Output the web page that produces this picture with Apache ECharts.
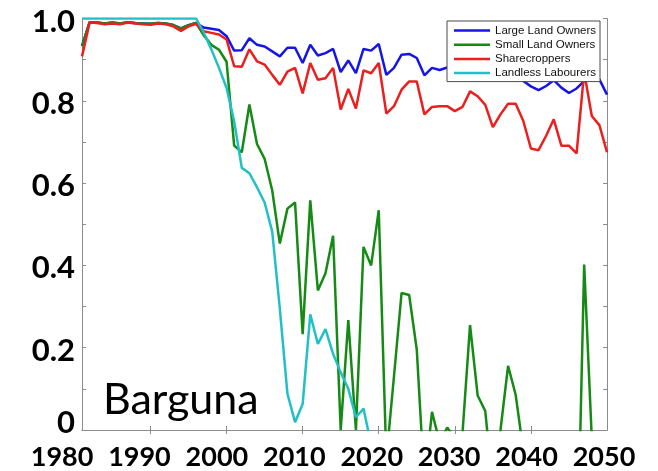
<!DOCTYPE html>
<html>
<head>
<meta charset="utf-8">
<script src="https://cdn.jsdelivr.net/npm/echarts@6/dist/echarts.min.js"></script>
<style>
  html, body { margin: 0; padding: 0; background: #fff; }
  #chart { width: 658px; height: 471px; }
</style>
</head>
<body>
<div id="chart"></div>
<script>
// Yearly shares for the four household groups, 1981-2050.
// Values below zero fall under the axis floor and are clipped by the plot area.
const years = Array.from({ length: 70 }, (_, i) => 1981 + i);

const largeLandOwners = [
  0.933, 0.991, 0.990, 0.988, 0.990, 0.988, 0.991, 0.989, 0.988, 0.987,
  0.989, 0.988, 0.984, 0.976, 0.984, 0.989, 0.978, 0.975, 0.972, 0.957,
  0.922, 0.923, 0.952, 0.936, 0.932, 0.920, 0.908, 0.929, 0.929, 0.892,
  0.936, 0.910, 0.916, 0.926, 0.870, 0.898, 0.867, 0.926, 0.922, 0.938,
  0.863, 0.880, 0.912, 0.914, 0.904, 0.862, 0.880, 0.875, 0.881, 0.876,
  0.870, 0.878, 0.872, 0.866, 0.870, 0.862, 0.858, 0.860, 0.848, 0.835,
  0.826, 0.836, 0.850, 0.832, 0.819, 0.830, 0.848, 0.860, 0.852, 0.815
];

const smallLandOwners = [
  0.933, 0.991, 0.990, 0.988, 0.990, 0.988, 0.991, 0.989, 0.988, 0.987,
  0.989, 0.988, 0.984, 0.976, 0.984, 0.989, 0.959, 0.936, 0.924, 0.895,
  0.691, 0.675, 0.791, 0.695, 0.659, 0.582, 0.453, 0.538, 0.553, 0.233,
  0.558, 0.339, 0.381, 0.472, 0.000, 0.267, 0.000, 0.445, 0.400, 0.534,
  -0.07, 0.130, 0.333, 0.328, 0.195, -0.13, 0.044, -0.03, 0.006, -0.02,
  -0.01, 0.255, 0.084, 0.046, -0.14, 0.000, 0.156, 0.085, -0.05, null,
  null, null, null, null, null, -0.40, 0.402, -0.02, null, null
];

const sharecroppers = [
  0.908, 0.990, 0.989, 0.986, 0.988, 0.986, 0.990, 0.988, 0.986, 0.985,
  0.988, 0.986, 0.981, 0.970, 0.981, 0.987, 0.969, 0.965, 0.961, 0.949,
  0.884, 0.883, 0.925, 0.896, 0.888, 0.863, 0.839, 0.871, 0.880, 0.818,
  0.892, 0.851, 0.855, 0.880, 0.779, 0.829, 0.781, 0.874, 0.867, 0.892,
  0.769, 0.787, 0.827, 0.847, 0.847, 0.767, 0.785, 0.787, 0.787, 0.775,
  0.785, 0.823, 0.811, 0.790, 0.736, 0.767, 0.793, 0.793, 0.751, 0.684,
  0.680, 0.715, 0.755, 0.691, 0.691, 0.672, 0.870, 0.763, 0.741, 0.675
];

const landlessLabourers = [
  1.000, 1.000, 1.000, 1.000, 1.000, 1.000, 1.000, 1.000, 1.000, 1.000,
  1.000, 1.000, 1.000, 1.000, 1.000, 1.000, 0.966, 0.925, 0.880, 0.831,
  0.750, 0.637, 0.624, 0.590, 0.553, 0.482, 0.295, 0.088, 0.019, 0.063,
  0.281, 0.209, 0.245, 0.185, 0.140, 0.100, 0.031, 0.052, -0.036, null,
  null, null, null, null, null, null, null, null, null, null,
  null, null, null, null, null, null, null, null, null, null,
  null, null, null, null, null, null, null, null, null, null
];

const seriesNames = ['Large Land Owners', 'Small Land Owners', 'Sharecroppers', 'Landless Labourers'];
const seriesColors = ['#1515e8', '#158a15', '#ec1e1e', '#20c0c6'];

const xTickValues = [1980, 1990, 2000, 2010, 2020, 2030, 2040, 2050];
const xTickLabels = ['1980', '1990', '2000', '2010', '2020', '2030', '2040', '2050'];
const xTickMarks = [1990, 2000, 2010, 2020, 2030, 2040];
const yTickValues = [0, 0.2, 0.4, 0.6, 0.8, 1.0];
const yTickLabels = ['0', '0.2', '0.4', '0.6', '0.8', '1.0'];

const districtName = 'Barguna';

function labelFor(values, labels) {
  return function (v) {
    for (let i = 0; i < values.length; i++) {
      if (Math.abs(values[i] - v) < 1e-6) return labels[i];
    }
    return '';
  };
}

const frameColor = '#8c8c8c';
const numberFont = 'Lato';

const tickStyle = { show: true, inside: true, length: 4, lineStyle: { color: frameColor } };

// flat bar used as the legend key, so each entry shows a plain line swatch
const legendSwatch = 'path://M0,0 L36,0 L36,2.5 L0,2.5 Z';

// y labels sit a little below their ticks; the origin label is lifted clear of the year row
const yLabelText = labelFor(yTickValues, yTickLabels);
const yLabelStyle = { color: '#000', fontFamily: numberFont, fontWeight: 'bold', fontSize: 31 };

const chart = echarts.init(document.getElementById('chart'), null, { renderer: 'canvas' });

const option = {
  animation: false,
  backgroundColor: '#ffffff',
  grid: [
    { left: 82, right: 51, top: 15, bottom: 41 },
    // year labels sit on their own, slightly wider scale below the plot
    { left: 54.3, right: 54, top: 15, bottom: 41 }
  ],
  xAxis: [
    {
      type: 'value', gridIndex: 0, position: 'bottom', min: 1981, max: 2050,
      axisLine: { show: true, lineStyle: { color: frameColor, width: 1 } },
      axisTick: Object.assign({ customValues: xTickMarks }, tickStyle),
      axisLabel: { show: false },
      splitLine: { show: false }
    },
    {
      type: 'value', gridIndex: 0, position: 'top', min: 1981, max: 2050,
      axisLine: { show: true, lineStyle: { color: frameColor, width: 1 } },
      axisTick: Object.assign({ customValues: xTickMarks }, tickStyle),
      axisLabel: { show: false },
      splitLine: { show: false }
    },
    {
      type: 'value', gridIndex: 1, position: 'bottom', min: 1979, max: 2050,
      axisLine: { show: false },
      axisTick: { show: false },
      splitLine: { show: false },
      axisLabel: {
        show: true,
        customValues: xTickValues,
        formatter: labelFor(xTickValues, xTickLabels),
        margin: 15,
        color: '#000',
        fontFamily: numberFont,
        fontWeight: 'bold',
        fontSize: 27
      }
    }
  ],
  yAxis: [
    {
      type: 'value', gridIndex: 0, position: 'left', min: 0, max: 1, interval: 0.1,
      axisLine: { show: true, lineStyle: { color: frameColor, width: 1 } },
      axisTick: tickStyle,
      splitLine: { show: false },
      axisLabel: {
        show: true,
        customValues: yTickValues,
        margin: 7,
        formatter: function (v) {
          const t = yLabelText(v);
          return v === 0 ? '{origin|' + t + '}' : '{num|' + t + '}';
        },
        rich: {
          num: Object.assign({ lineHeight: 6, padding: [6, 0, 0, 0] }, yLabelStyle),
          origin: Object.assign({ lineHeight: 4, padding: [0, 0, 15, 0] }, yLabelStyle)
        }
      }
    },
    {
      type: 'value', gridIndex: 0, position: 'right', min: 0, max: 1, interval: 0.1,
      axisLine: { show: true, lineStyle: { color: frameColor, width: 1 } },
      axisTick: tickStyle,
      axisLabel: { show: false },
      splitLine: { show: false }
    },
    {
      type: 'value', gridIndex: 1, min: 0, max: 1, show: false
    }
  ],
  legend: {
    orient: 'vertical',
    left: 447,
    top: 21,
    padding: [2.5, 4, 1.5, 7],
    itemWidth: 36,
    itemHeight: 14,
    itemGap: 0.2,
    icon: legendSwatch,
    symbolKeepAspect: true,
    itemStyle: { borderWidth: 0 },
    backgroundColor: '#ffffff',
    borderColor: '#4a4a4a',
    borderWidth: 1,
    borderRadius: 0,
    textStyle: { fontFamily: 'Liberation Sans', fontSize: 11.5, lineHeight: 14, color: '#111' },
    data: seriesNames
  },
  graphic: [
    {
      type: 'text',
      left: 103,
      top: 379,
      style: {
        text: districtName,
        fill: '#000',
        font: '43px Lato'
      }
    }
  ],
  series: [largeLandOwners, smallLandOwners, sharecroppers, landlessLabourers].map((vals, k) => ({
    name: seriesNames[k],
    type: 'line',
    xAxisIndex: 0,
    yAxisIndex: 0,
    symbol: 'none',
    clip: true,
    connectNulls: false,
    color: seriesColors[k],
    lineStyle: { color: seriesColors[k], width: 2.5 },
    data: years.map((y, i) => [y, vals[i]])
  }))
};

chart.setOption(option);
</script>
</body>
</html>
